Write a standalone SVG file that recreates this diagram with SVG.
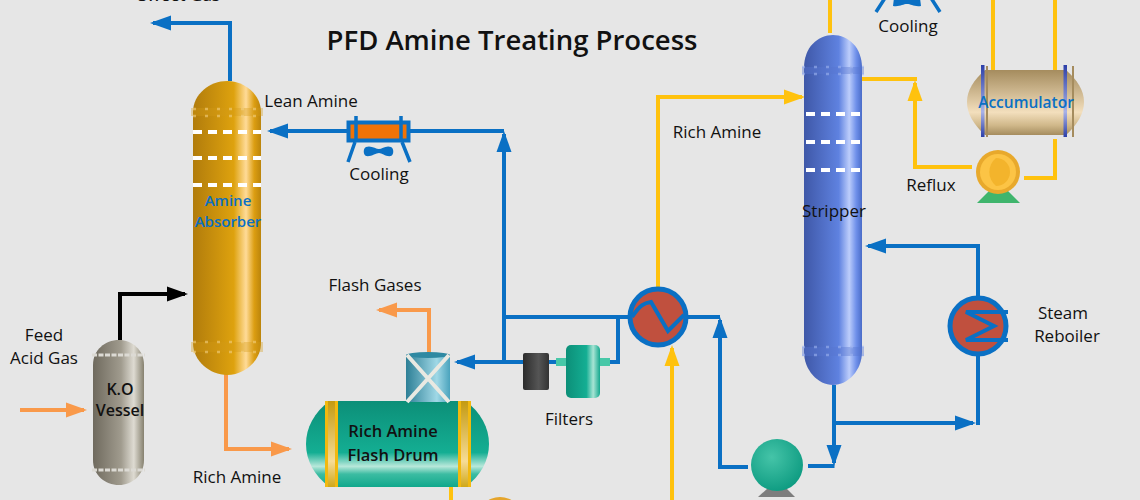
<svg xmlns="http://www.w3.org/2000/svg" width="1140" height="500" viewBox="0 0 1140 500">
<style>
.l{font-family:"Open Sans","Liberation Sans",sans-serif;font-size:17px;font-weight:500;fill:#111;text-anchor:middle}
.t{font-family:"Open Sans","Liberation Sans",sans-serif;font-size:27.5px;font-weight:600;fill:#111;text-anchor:middle}
.bt{fill:#0a70c4;font-weight:600}
.bl{fill:#0a70c4}
.c{fill:none;stroke-width:4;stroke-linejoin:miter}
.b{stroke:#0a70c4}.y{stroke:#ffc20e}.o{stroke:#f9994a}.k{stroke:#000}
.tray{stroke:#fff;stroke-width:4;stroke-dasharray:9 6;fill:none}
.band{fill:none;stroke-width:2.500;stroke-dasharray:3 9;opacity:.6}
.hx{fill:#c0503e;stroke:#0a70c4;stroke-width:5}
.hl{fill:none;stroke:#0a70c4;stroke-width:4}
</style>
<defs>
<linearGradient id="gold"><stop offset="0" stop-color="#b17c0c"/><stop offset=".6" stop-color="#dea20e"/><stop offset=".78" stop-color="#ffdb98"/><stop offset=".9" stop-color="#dc9e12"/><stop offset="1" stop-color="#bb840b"/></linearGradient>
<linearGradient id="blue"><stop offset="0" stop-color="#3f58a8"/><stop offset=".6" stop-color="#5f82e0"/><stop offset=".78" stop-color="#bccdfb"/><stop offset=".9" stop-color="#6f90ea"/><stop offset="1" stop-color="#4a6cc8"/></linearGradient>
<linearGradient id="grey"><stop offset="0" stop-color="#6f6a5e"/><stop offset=".55" stop-color="#a09b8e"/><stop offset=".8" stop-color="#dedbd2"/><stop offset="1" stop-color="#86816f"/></linearGradient>
<linearGradient id="teal" x2="0" y2="1"><stop offset="0" stop-color="#0c8f78"/><stop offset=".6" stop-color="#14ae93"/><stop offset=".76" stop-color="#b8e8da"/><stop offset=".85" stop-color="#3cbca2"/><stop offset="1" stop-color="#10a88c"/></linearGradient>
<linearGradient id="teal2"><stop offset="0" stop-color="#0c8f78"/><stop offset=".6" stop-color="#14ae93"/><stop offset=".8" stop-color="#a8e4d4"/><stop offset="1" stop-color="#14a88e"/></linearGradient>
<linearGradient id="tan" x2="0" y2="1"><stop offset="0" stop-color="#a58c5e"/><stop offset=".65" stop-color="#f3dfbd"/><stop offset=".85" stop-color="#d0b88a"/><stop offset="1" stop-color="#a58c5e"/></linearGradient>
<linearGradient id="cyl"><stop offset="0" stop-color="#2d7f96"/><stop offset=".7" stop-color="#a0d8e6"/><stop offset="1" stop-color="#4aa3bd"/></linearGradient>
<linearGradient id="blk"><stop offset="0" stop-color="#2c2c2c"/><stop offset=".6" stop-color="#555"/><stop offset="1" stop-color="#333"/></linearGradient>
<linearGradient id="bs" x2="0" y2="1"><stop offset="0" stop-color="#2c3fa8"/><stop offset=".65" stop-color="#a9b3e8"/><stop offset="1" stop-color="#2c3fa8"/></linearGradient>
<linearGradient id="gs" x2="0" y2="1"><stop offset="0" stop-color="#c49a10"/><stop offset=".7" stop-color="#f6dc96"/><stop offset="1" stop-color="#d0a818"/></linearGradient>
<radialGradient id="pg" cx=".4" cy=".35" r=".7"><stop offset="0" stop-color="#45c4a8"/><stop offset="1" stop-color="#0c9a80"/></radialGradient>
<marker id="ab" markerUnits="userSpaceOnUse" markerWidth="22" markerHeight="16" refX="18" refY="8" orient="auto"><path d="M0 .5L21 8L0 15.5Z" fill="#0a70c4"/></marker>
<marker id="ay" markerUnits="userSpaceOnUse" markerWidth="22" markerHeight="16" refX="18" refY="8" orient="auto"><path d="M0 .5L21 8L0 15.5Z" fill="#ffc20e"/></marker>
<marker id="ao" markerUnits="userSpaceOnUse" markerWidth="22" markerHeight="16" refX="18" refY="8" orient="auto"><path d="M0 .5L21 8L0 15.5Z" fill="#f9994a"/></marker>
<marker id="ak" markerUnits="userSpaceOnUse" markerWidth="22" markerHeight="16" refX="18" refY="8" orient="auto"><path d="M0 .5L21 8L0 15.5Z" fill="#000"/></marker>
</defs>
<rect width="1140" height="500" fill="#e6e6e6"/>
<text class="t" x="512" y="50">PFD Amine Treating Process</text>

<g id="connectors">
<path class="c k" d="M120 340V294H185" marker-end="url(#ak)"/>
<path class="c o" d="M20 410H84" marker-end="url(#ao)"/>
<path class="c o" d="M226 364V449H289" marker-end="url(#ao)"/>
<path class="c o" d="M429 353V310H379" marker-end="url(#ao)"/>
<path class="c b" d="M230 81V23H153" marker-end="url(#ab)"/>
<path class="c b" d="M347 131H270" marker-end="url(#ab)"/>
<path class="c b" d="M410 131H504"/>
<path class="c b" d="M504 362V134" marker-end="url(#ab)"/>
<path class="c b" d="M504 317H630"/>
<path class="c b" d="M618 317V362H606"/>
<path class="c b" d="M560 362H549"/>
<path class="c b" d="M523 362H457" marker-end="url(#ab)"/>
<path class="c b" d="M688 317H720"/>
<path class="c b" d="M748 467H720V320" marker-end="url(#ab)"/>
<path class="c b" d="M808 466H834.500"/>
<path class="c b" d="M834 385V463" marker-end="url(#ab)"/>
<path class="c b" d="M834 423H973" marker-end="url(#ab)"/>
<path class="c b" d="M978 425V355"/>
<path class="c b" d="M978 296V246H868" marker-end="url(#ab)"/>
<path class="c y" d="M658 288V97H802" marker-end="url(#ay)"/>
<path class="c y" d="M672 500V348" marker-end="url(#ay)"/>
<path class="c y" d="M830 0V33"/>
<path class="c y" d="M860 79H917"/>
<path class="c y" d="M972 167H915V83" marker-end="url(#ay)"/>
<path class="c y" d="M993 0V71"/>
<path class="c y" d="M1055 0V71"/>
<path class="c y" d="M1055 139V178H1024"/>
<path class="c y" d="M451 487V500"/>
</g>

<g id="amine-absorber">
<path d="M193 112C193 94 210 81 227 81C244 81 261 94 261 112V343C261 361 244 375 227 375C210 375 193 361 193 343Z" fill="url(#gold)"/>
<path d="M191 108H263V116H191Z M191 342H263V352H191Z" fill="#d39a16" opacity=".35"/>
<path d="M193 109H261M193 116H261M193 342H261M193 352H261" class="band" stroke="#f2cf80"/>
<path d="M193 132H261M193 158H261M193 185H261" class="tray"/>
<text class="l bt" x="228" y="206" style="font-size:15px">Amine</text>
<text class="l bt" x="228" y="227" style="font-size:15px">Absorber</text>
</g>

<g id="ko-vessel">
<path d="M93 365C93 350 105 340 119 340C132 340 144 350 144 365V460C144 475 132 485 119 485C105 485 93 475 93 460Z" fill="url(#grey)"/>
<path d="M92 355H145M92 470H145" stroke="#dcdad4" stroke-width="3" stroke-dasharray="5 1.500" fill="none"/>
<text class="l" x="120" y="395" style="font-size:16px;font-weight:600">K.O</text>
<text class="l" x="120" y="416" style="font-size:16px;font-weight:600">Vessel</text>
</g>

<g id="rich-amine-flash-drum">
<path d="M330 401H465C481 412 489 428 489 444C489 460 481 476 465 487H330C314 476 306 460 306 444C306 428 314 412 330 401Z" fill="url(#teal)"/>
<path d="M325 401H338V487H325ZM458 401H471V487H458Z" fill="url(#gs)"/>
<path d="M326.500 401V487M336.500 401V487M459.500 401V487M469.500 401V487" stroke="#f2b90f" stroke-width="3" fill="none"/>
<text class="l" x="393" y="437" style="font-weight:600;font-size:16.500px">Rich Amine</text>
<text class="l" x="393" y="461" style="font-weight:600;font-size:16.500px">Flash Drum</text>
</g>

<g id="flash-valve">
<rect x="406" y="355" width="44" height="47" fill="url(#cyl)"/>
<ellipse cx="428" cy="355" rx="22" ry="3" fill="#2f89a2"/>
<path d="M407 402L449 355M449 402L407 355" stroke="#e9e9e2" stroke-width="4" fill="none"/>
</g>

<g id="filters">
<rect x="523" y="353" width="26" height="37" rx="2" fill="url(#blk)"/>
<rect x="556" y="358" width="54" height="8" fill="#48c8a8"/>
<rect x="566" y="345" width="34" height="53" rx="5" fill="url(#teal2)"/>
</g>

<g id="exchanger">
<circle class="hx" cx="658" cy="317" r="28"/>
<path class="hl" d="M632 317C640 305 644 303 651 302L668 331L684 315"/>
</g>

<g id="lean-cooler">
<rect x="348.500" y="122.500" width="60" height="18" fill="#f07307" stroke="#0a70c4" stroke-width="4"/>
<path d="M356 116V141M401 116V141" stroke="#0a70c4" stroke-width="3.500" fill="none"/>
<path d="M355 142L348 162M402 142L410 162" stroke="#0a70c4" stroke-width="3.500" fill="none"/>
<path d="M366 147C371 145 376 149 379 149C382 149 386 145 391 147C394 148 394 155 391 156C386 157 382 153 379 153C376 153 371 157 366 156C363 155 363 148 366 147Z" class="bl"/>
<text class="l" x="379" y="180">Cooling</text>
</g>

<g id="stripper">
<path d="M804 68C804 47 818 35 833 35C848 35 862 47 862 68V352C862 370 848 385 833 385C818 385 804 370 804 352Z" fill="url(#blue)"/>
<path d="M802 67H864V74H802Z M802 347H864V356H802Z" fill="#5875cf" opacity=".4"/>
<path d="M802 67H864M802 74H864M802 347H864M802 355H864" class="band" stroke="#9db2ee"/>
<path d="M806 114H860M806 142H860M806 170H860" class="tray"/>
<text class="l" x="834" y="217">Stripper</text>
</g>

<g id="top-cooling">
<path d="M885 -2L876 12M931 -2L940 12" stroke="#0a70c4" stroke-width="3.500" fill="none"/>
<path d="M894 -2H920L921 6C914 7 911 4 907 4C903 4 900 7 893 6Z" class="bl"/>
<text class="l" x="908" y="32">Cooling</text>
</g>

<g id="accumulator">
<path d="M985 70H1066C1077 80 1084 90 1084 102C1084 114 1077 125 1066 135H985C974 125 967 114 967 102C967 90 974 80 985 70Z" fill="url(#tan)"/>
<path d="M987 66V137M1073 66V137" stroke="#a58c5e" stroke-width="2" fill="none"/>
<path d="M981 65H984.500V137H981ZM1063.500 65H1067V137H1063.500Z" fill="url(#bs)"/>
<text class="l bt" x="1026" y="108" style="font-size:15.500px">Accumulator</text>
</g>

<g id="reflux-pump">
<path d="M977 203L990 190H1007L1020 203Z" fill="#3fb56d"/>
<circle cx="998" cy="172" r="22" fill="#e8a92c"/>
<circle cx="998" cy="172" r="18" fill="#fcc445"/>
<path d="M996 158A14 14 0 0 1 996 186A18 18 0 0 1 996 158Z" fill="#f3b42c"/>
<text class="l" x="931" y="191">Reflux</text>
</g>

<g id="steam-reboiler">
<circle class="hx" cx="978" cy="326" r="28"/>
<path class="hl" d="M1008 312H966L994 326L966 340H1008"/>
<text class="l" x="1063" y="319">Steam</text>
<text class="l" x="1067" y="342">Reboiler</text>
</g>

<g id="lean-pump">
<path d="M758 497L768 488H786L795 497Z" fill="#7d7d7d"/>
<circle cx="777" cy="465" r="26" fill="url(#pg)"/>
</g>

<g id="bottom-pump">
<circle cx="500" cy="520" r="23" fill="#e5a52c"/>
</g>

<text class="l" x="44" y="341">Feed</text>
<text class="l" x="44" y="364">Acid Gas</text>
<text class="l" x="237" y="483">Rich Amine</text>
<text class="l" x="375" y="291">Flash Gases</text>
<text class="l" x="311" y="107">Lean Amine</text>
<text class="l" x="569" y="425">Filters</text>
<text class="l" x="717" y="138">Rich Amine</text>
<text class="l" x="179" y="1">Sweet Gas</text>
</svg>
